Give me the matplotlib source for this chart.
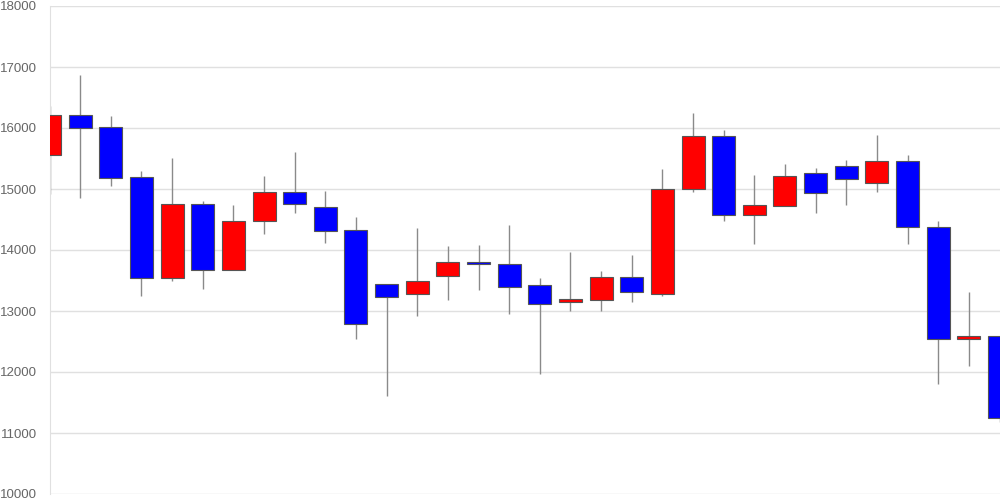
import matplotlib
matplotlib.use("Agg")
import matplotlib.pyplot as plt
import numpy as np

opens  = [15562, 16208, 16011, 15191, 13546, 14749, 13678, 14470, 14951, 14699,
          14322, 13443, 13273, 13568, 13798, 13770, 13421, 13142, 13180, 13563,
          13284, 15000, 15863, 14568, 14727, 15257, 15377, 15093, 15454, 14382,
          12536, 12595]
highs  = [16361, 16864, 16202, 15295, 15508, 14803, 14738, 15208, 15607, 14972,
          14541, 13443, 14355, 14066, 14082, 14404, 13536, 13962, 13656, 13913,
          15328, 16240, 15967, 15230, 15410, 15339, 15470, 15885, 15563, 14475,
          13311, 12595]
lows   = [14913, 14852, 15055, 13251, 13492, 13366, 13678, 14268, 14601, 14109,
          12546, 11612, 12923, 13186, 13350, 12956, 11973, 13000, 13005, 13153,
          13251, 14956, 14481, 14104, 14727, 14601, 14732, 14956, 14104, 11803,
          12103, 11186]
closes = [16208, 16000, 15175, 13546, 14749, 13678, 14475, 14951, 14749, 14311,
          12792, 13230, 13492, 13798, 13775, 13399, 13120, 13191, 13563, 13306,
          15000, 15863, 14568, 14732, 15213, 14929, 15158, 15454, 14382, 12541,
          12595, 11251]
yticks = [10000, 11000, 12000, 13000, 14000, 15000, 16000, 17000, 18000]

plt.rcParams['font.family'] = ['Liberation Sans', 'DejaVu Sans']
fig = plt.figure(figsize=(10, 5), dpi=100)
ax = fig.add_axes([0.0495, 0.012, 0.95, 0.976])

x = np.arange(len(opens))
o = np.array(opens); c = np.array(closes)
up = c >= o
colors = np.where(up, '#ff0000', '#0000ff')

ax.vlines(x, lows, highs, color='#8a8a8a', linewidth=1, zorder=2)
bottoms = np.minimum(o, c)
heights = np.maximum(np.abs(c - o), 8)
ax.bar(x, heights, bottom=bottoms, width=0.75, color=colors,
       edgecolor='#555555', linewidth=0.8, zorder=3)

ax.set_xlim(0, len(opens) - 1)
ax.set_ylim(10000, 18000)
ax.set_yticks(yticks)
ax.set_yticklabels([str(v) for v in yticks])
ax.set_xticks([])
ax.grid(axis='y', color='#e0e0e0', linewidth=1, zorder=0)
ax.set_axisbelow(True)
for s in ['top', 'right', 'bottom']:
    ax.spines[s].set_visible(False)
ax.spines['left'].set_color('#e0e0e0')
ax.tick_params(axis='y', length=0, pad=9, labelcolor='#666666', labelsize=9.5)

fig.savefig('out.png', dpi=100)
